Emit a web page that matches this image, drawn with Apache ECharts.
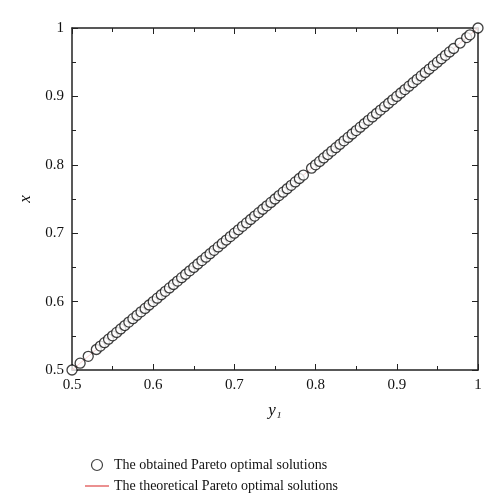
<!DOCTYPE html>
<html><head><meta charset="utf-8">
<script src="https://cdn.jsdelivr.net/npm/echarts@6/dist/echarts.min.js"></script>
<style>html,body{margin:0;padding:0;background:#fff}</style>
</head><body>
<div id="c" style="width:498px;height:500px"></div>
<script>
const obtained = [0.500,0.510,0.520,0.530,0.535,0.540,0.545,0.550,0.555,0.560,0.565,0.570,0.575,0.580,0.585,0.590,0.595,0.600,0.605,0.610,0.615,0.620,0.625,0.630,0.635,0.640,0.645,0.650,0.655,0.660,0.665,0.670,0.675,0.680,0.685,0.690,0.695,0.700,0.705,0.710,0.715,0.720,0.725,0.730,0.735,0.740,0.745,0.750,0.755,0.760,0.765,0.770,0.775,0.780,0.785,0.795,0.800,0.805,0.810,0.815,0.820,0.825,0.830,0.835,0.840,0.845,0.850,0.855,0.860,0.865,0.870,0.875,0.880,0.885,0.890,0.895,0.900,0.905,0.910,0.915,0.920,0.925,0.930,0.935,0.940,0.945,0.950,0.955,0.960,0.965,0.970,0.978,0.986,0.990,1.000];
const theoretical = [0.5, 1.0];
const legendNames = ['The obtained Pareto optimal solutions','The theoretical Pareto optimal solutions'];
const font = 'Liberation Serif';
const axisCommon = {min:0.5,max:1,interval:0.1,
  axisLine:{show:true,onZero:false,lineStyle:{color:'#222',width:1.5}},
  axisTick:{show:true,inside:true,length:6,lineStyle:{color:'#222'}},
  minorTick:{show:true,splitNumber:2,length:4,lineStyle:{color:'#222'}},
  splitLine:{show:false},
  axisLabel:{color:'#111',fontFamily:font,fontSize:15,formatter:v=>v===1?'1':v.toFixed(1)}};
const chart = echarts.init(document.getElementById('c'));
chart.setOption({
  animation:false,
  grid:{left:72,right:20,top:28,bottom:130},
  legend:{orient:'vertical',left:80,top:453,itemGap:7,itemWidth:24,itemHeight:11,
    textStyle:{fontFamily:font,fontSize:14,color:'#111'},
    data:[{name:legendNames[0],icon:'circle',itemStyle:{color:'#fff',borderColor:'#111',borderWidth:1.2}},
          {name:legendNames[1],icon:'path://M0,5L24,5L24,6L0,6Z',itemStyle:{color:'#d62020'}}]},
  xAxis:[Object.assign({type:'value',name:'y₁',nameLocation:'middle',nameGap:32,
    nameTextStyle:{fontFamily:font,fontSize:17,fontStyle:'italic',color:'#111'}},axisCommon),
    Object.assign({},axisCommon,{type:'value',position:'top',axisLabel:{show:false},gridIndex:0})],
  yAxis:[Object.assign({type:'value',name:'x',nameLocation:'middle',nameGap:38,nameRotate:90,
    nameTextStyle:{fontFamily:font,fontSize:17,fontStyle:'italic',color:'#111'}},axisCommon),
    Object.assign({},axisCommon,{type:'value',position:'right',axisLabel:{show:false}})],
  series:[
    {name:legendNames[1],type:'line',data:theoretical.map(v=>[v,v]),symbol:'none',lineStyle:{color:'#d62020',width:1},itemStyle:{color:'#d62020'},z:1},
    {name:legendNames[0],type:'scatter',data:obtained.map(v=>[v,v]),symbol:'circle',symbolSize:10,
      itemStyle:{color:'#fff',borderColor:'#111',borderWidth:1.3},z:2}
  ]
});
</script></body></html>
